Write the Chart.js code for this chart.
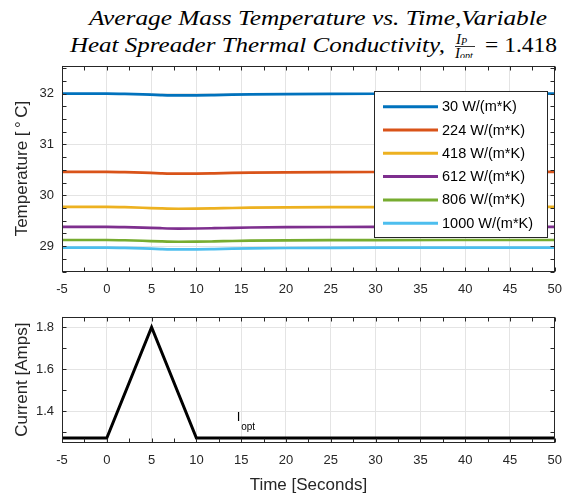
<!DOCTYPE html>
<html>
<head>
<meta charset="utf-8">
<title>Average Mass Temperature vs. Time</title>
<script src="https://cdn.jsdelivr.net/npm/chart.js@4.4.0/dist/chart.umd.min.js"></script>
<style>
  body { margin: 0; background: #fff; }
  #wrap { position: relative; width: 572px; height: 497px; }
  #title { position: absolute; left: 0; top: 0; }
  #tempChart { position: absolute; left: 0; top: 58px; }
  #currentChart { position: absolute; left: 0; top: 300px; }
  #title text { font-family: "Liberation Serif", "Times New Roman", serif; fill: #000; }
</style>
</head>
<body>
<div id="wrap">
  <svg id="title" width="572" height="58">
    <text x="89" y="25" font-size="21" font-style="italic" textLength="458" lengthAdjust="spacingAndGlyphs">Average Mass Temperature vs. Time,Variable</text>
    <text x="70" y="51.5" font-size="21" font-style="italic" textLength="375" lengthAdjust="spacingAndGlyphs">Heat Spreader Thermal Conductivity,</text>
    <text x="456" y="43.5" font-size="15" font-style="italic">I<tspan font-size="10" dy="1.5">P</tspan></text>
    <line x1="455" x2="475" y1="46.5" y2="46.5" stroke="#000" stroke-width="0.8"></line>
    <text x="455" y="57.5" font-size="15" font-style="italic">I<tspan font-size="10" dy="1.5">opt</tspan></text>
    <text x="485" y="51.5" font-size="21" textLength="72" lengthAdjust="spacingAndGlyphs">= 1.418</text>
  </svg>
  <canvas id="tempChart" width="572" height="242"></canvas>
  <canvas id="currentChart" width="572" height="197"></canvas>
</div>
<script>
// time samples (seconds)
const time = [-5, 0, 2, 4, 6, 8, 10, 12, 14, 16, 20, 25, 30, 40, 50];

// average mass temperature [deg C] for each spreader conductivity
const k30   = [32.00, 32.00, 31.995, 31.985, 31.972, 31.965, 31.966, 31.972, 31.980, 31.986, 31.992, 31.996, 31.998, 32.00, 32.00];
const k224  = [30.46, 30.46, 30.455, 30.445, 30.432, 30.425, 30.426, 30.432, 30.440, 30.446, 30.452, 30.456, 30.458, 30.46, 30.46];
const k418  = [29.77, 29.77, 29.765, 29.755, 29.742, 29.735, 29.736, 29.742, 29.750, 29.756, 29.762, 29.766, 29.768, 29.77, 29.77];
const k612  = [29.38, 29.38, 29.375, 29.365, 29.352, 29.345, 29.346, 29.352, 29.360, 29.366, 29.372, 29.376, 29.378, 29.38, 29.38];
const k806  = [29.12, 29.12, 29.115, 29.105, 29.092, 29.085, 29.086, 29.092, 29.100, 29.106, 29.112, 29.116, 29.118, 29.12, 29.12];
const k1000 = [28.97, 28.97, 28.965, 28.955, 28.942, 28.935, 28.936, 28.942, 28.950, 28.956, 28.962, 28.966, 28.968, 28.97, 28.97];

const seriesLabels = ['30 W/(m*K)', '224 W/(m*K)', '418 W/(m*K)', '612 W/(m*K)', '806 W/(m*K)', '1000 W/(m*K)'];
const seriesValues = [k30, k224, k418, k612, k806, k1000];
const seriesColors = ['#0072BD', '#D95319', '#EDB120', '#7E2F8E', '#77AC30', '#4DBEEE'];

// current profile
const currentTime = [-5, 0, 5, 10, 50];
const currentAmps = [1.272, 1.272, 1.80, 1.272, 1.272];

// tick labels
const timeTicks = [-5, 0, 5, 10, 15, 20, 25, 30, 35, 40, 45, 50];
const tempTicks = [29, 30, 31, 32];
const currentTicks = [1.4, 1.6, 1.8];

const FONT = '"Liberation Sans", Helvetica, Arial, sans-serif';
const AXIS = '#262626';
const GRID = '#e4e4e4';

// MATLAB-like box with inward ticks on all four sides
function boxPlugin(xStep, yStep) {
  return {
    id: 'matlabBox',
    afterDraw(chart) {
      const {ctx, chartArea: a, scales: {x, y}} = chart;
      const L = Math.round(a.left) + 0.5, R = Math.round(a.right) - 0.5;
      const T = Math.round(a.top) + 0.5, B = Math.round(a.bottom) - 0.5;
      ctx.save();
      ctx.strokeStyle = AXIS;
      ctx.lineWidth = 1;
      ctx.strokeRect(L, T, R - L, B - T);
      ctx.beginPath();
      const len = 4;
      for (let v = x.min; v <= x.max + 1e-9; v += xStep) {
        const px = Math.round(x.getPixelForValue(v)) + 0.5;
        ctx.moveTo(px, B); ctx.lineTo(px, B - len);
        ctx.moveTo(px, T); ctx.lineTo(px, T + len);
      }
      const start = Math.ceil(y.min / yStep - 1e-9) * yStep;
      for (let v = start; v <= y.max + 1e-9; v += yStep) {
        const py = Math.round(y.getPixelForValue(v)) + 0.5;
        ctx.moveTo(L, py); ctx.lineTo(L + len, py);
        ctx.moveTo(R, py); ctx.lineTo(R - len, py);
      }
      ctx.stroke();
      ctx.restore();
    }
  };
}

const legendBox = {
  id: 'legendBox',
  afterDraw(chart) {
    const ctx = chart.ctx;
    ctx.save();
    ctx.fillStyle = '#fff';
    ctx.fillRect(374.5, 33.5, 173, 146);
    ctx.strokeStyle = AXIS;
    ctx.lineWidth = 1;
    ctx.strokeRect(374.5, 33.5, 173, 146);
    ctx.font = '14.5px ' + FONT;
    ctx.textBaseline = 'middle';
    chart.data.datasets.forEach((ds, i) => {
      const y = 48.7 + i * 23.3;
      ctx.strokeStyle = ds.borderColor;
      ctx.lineWidth = 3;
      ctx.beginPath();
      ctx.moveTo(383, y); ctx.lineTo(438, y);
      ctx.stroke();
      ctx.fillStyle = '#000';
      ctx.fillText(ds.label, 442, y + 0.5);
    });
    ctx.restore();
  }
};

// I_opt annotation, placed in data coordinates
const ioptAt = {x: 14.5, y: 1.354};
const ioptLabel = {
  id: 'ioptLabel',
  afterDatasetsDraw(chart) {
    const {ctx, scales: {x, y}} = chart;
    const px = x.getPixelForValue(ioptAt.x), py = y.getPixelForValue(ioptAt.y);
    ctx.save();
    ctx.fillStyle = '#000';
    ctx.textBaseline = 'alphabetic';
    ctx.font = '13px ' + FONT;
    ctx.fillText('I', px, py);
    ctx.font = '10px ' + FONT;
    ctx.fillText('opt', px + 4.5, py + 9);
    ctx.restore();
  }
};

function xAxis(height, withTitle) {
  return {
    type: 'linear', min: -5, max: 50,
    afterBuildTicks: s => { s.ticks = timeTicks.map(v => ({value: v})); },
    afterFit: s => { s.height = height; },
    grid: {color: GRID, drawTicks: false},
    border: {display: false},
    ticks: {font: {family: FONT, size: 13}, color: AXIS, padding: 10, maxRotation: 0, autoSkip: false,
            callback: v => String(v)},
    title: withTitle ? {display: true, text: 'Time [Seconds]', font: {family: FONT, size: 17},
                        color: AXIS, padding: {top: 0, bottom: 1}} : {display: false}
  };
}

function yAxis(min, max, ticks, title) {
  return {
    type: 'linear', min: min, max: max,
    afterBuildTicks: s => { s.ticks = ticks.map(v => ({value: v})); },
    afterFit: s => { s.width = 62; s.paddingTop = 0; s.paddingBottom = 0; },
    grid: {color: GRID, drawTicks: false},
    border: {display: false},
    ticks: {font: {family: FONT, size: 13}, color: AXIS, padding: 8, callback: v => String(v)},
    title: {display: true, text: title, font: {family: FONT, size: 17}, color: AXIS,
            padding: {top: 12, bottom: 0}}
  };
}

new Chart(document.getElementById('tempChart'), {
  type: 'line',
  data: {
    datasets: seriesValues.map((vals, i) => ({
      label: seriesLabels[i],
      data: time.map((t, j) => ({x: t, y: vals[j]})),
      borderColor: seriesColors[i],
      backgroundColor: seriesColors[i],
      borderWidth: 2.7,
      pointRadius: 0,
      cubicInterpolationMode: 'monotone'
    }))
  },
  options: {
    responsive: false,
    animation: false,
    layout: {padding: {top: 7.7, right: 8.5, left: 0, bottom: 0}},
    plugins: {legend: {display: false}, tooltip: {enabled: false}},
    scales: {
      x: xAxis(28.5, false),
      y: yAxis(28.5, 32.55, tempTicks, 'Temperature [\u2009\u00B0\u2009C]')
    }
  },
  plugins: [boxPlugin(2.5, 0.25), legendBox]
});

new Chart(document.getElementById('currentChart'), {
  type: 'line',
  data: {
    datasets: [{
      label: 'Current',
      data: currentTime.map((t, j) => ({x: t, y: currentAmps[j]})),
      borderColor: '#000',
      backgroundColor: '#000',
      borderWidth: 3,
      pointRadius: 0,
      tension: 0,
      borderJoinStyle: 'miter'
    }]
  },
  options: {
    responsive: false,
    animation: false,
    layout: {padding: {top: 16.7, right: 8.5, left: 0, bottom: 0}},
    plugins: {legend: {display: false}, tooltip: {enabled: false}},
    scales: {
      x: xAxis(54.3, true),
      y: yAxis(1.25, 1.85, currentTicks, 'Current [Amps]')
    }
  },
  plugins: [boxPlugin(2.5, 0.1), ioptLabel]
});
</script>
</body>
</html>
